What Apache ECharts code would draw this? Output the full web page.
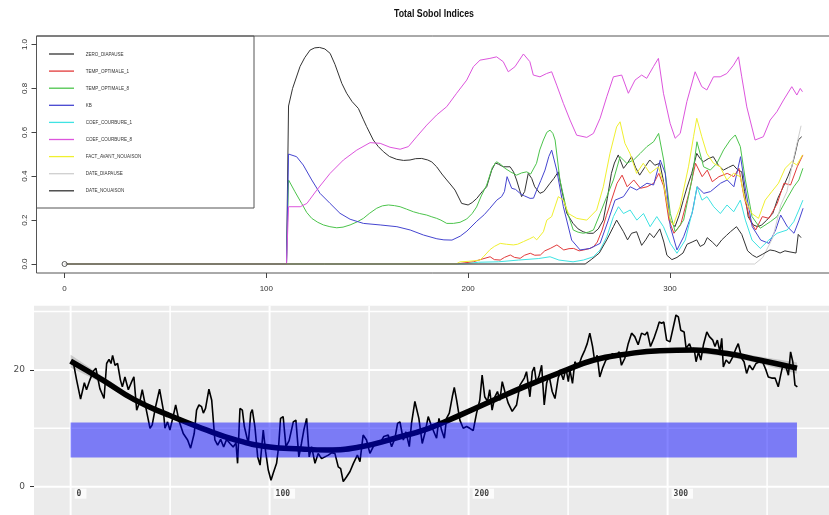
<!DOCTYPE html>
<html><head><meta charset="utf-8">
<script src="https://cdn.jsdelivr.net/npm/echarts@6/dist/echarts.min.js"></script>
<style>html,body{margin:0;padding:0;background:#fff}#c{width:829px;height:515px}</style>
</head><body><div id="c"></div>
<script>
// ---------------- TOP PANEL DATA: Total Sobol indices ([day, index]) ----------------
const chartTitle = 'Total Sobol Indices';
const seriesNames = ['ZERO_DIAPAUSE','TEMP_OPTIMALE_1','TEMP_OPTIMALE_8','KB','COEF_COURBURE_1','COEF_COURBURE_8','FACT_AVANT_NOUAISON','DATE_DIAPAUSE','DATE_NOUAISON'];
const sZeroDiapause = [[0,0],[110,0],[111,0.72],[113,0.8],[116.7,0.9],[119,0.94],[121.7,0.975],[124,0.985],[126.3,0.987],[129,0.98],[131.6,0.96],[134,0.91],[137.4,0.823],[139.8,0.778],[142.5,0.74],[145.6,0.709],[148,0.66],[149.7,0.626],[153,0.565],[155.5,0.535],[158,0.512],[161,0.49],[164.6,0.477],[168,0.472],[171.2,0.474],[174,0.48],[177,0.481],[180,0.474],[182,0.465],[184.4,0.443],[187,0.41],[189.4,0.383],[191.5,0.36],[193.5,0.337],[196.8,0.276],[200,0.269],[202,0.28],[204.3,0.299],[207,0.33],[209.2,0.352],[211.7,0.428],[213.5,0.46],[215,0.455],[217.4,0.443],[220.8,0.443],[222.5,0.42],[224,0.383],[226.5,0.307],[228,0.33],[229.8,0.413],[231.5,0.39],[233,0.352],[235.6,0.322],[237.5,0.33],[240.6,0.368],[242.5,0.39],[244.7,0.42],[246.4,0.337],[248.9,0.231],[252,0.185],[254.5,0.16],[257,0.147],[259.5,0.14],[262,0.14],[264.5,0.16],[267,0.2],[269,0.3],[271,0.413],[272.5,0.46],[274.4,0.497],[277,0.436],[279,0.46],[281,0.489],[283,0.44],[285,0.405],[287.5,0.44],[290,0.474],[292.5,0.45],[295,0.459],[296.7,0.383],[298.5,0.28],[300,0.2],[302.5,0.17],[304.5,0.22],[306.6,0.29],[308.5,0.35],[310.8,0.413],[313.3,0.504],[315,0.48],[316.6,0.466],[319,0.48],[321.5,0.489],[324,0.45],[326.5,0.428],[329,0.44],[331.4,0.451],[333.5,0.43],[335.6,0.42],[337,0.33],[338.8,0.215],[341.3,0.178],[343.5,0.17],[345.5,0.178],[348,0.2],[351,0.231],[353.5,0.3],[356.2,0.352],[358.5,0.4],[360.4,0.443],[362,0.5],[363.6,0.565],[365.3,0.58]];
const sTempOpt1 = [[0,0],[194,0],[198,0.005],[202.6,0.01],[206,0.02],[210.9,0.033],[213,0.02],[215.9,0.018],[218,0.03],[220.9,0.041],[223,0.03],[225.8,0.026],[228,0.04],[230.8,0.049],[233,0.04],[235.8,0.041],[238,0.06],[240.7,0.071],[244,0.087],[247.4,0.064],[250,0.07],[252.3,0.071],[255,0.06],[257.3,0.064],[260,0.07],[262.2,0.079],[264,0.1],[266.4,0.155],[268.5,0.22],[270.5,0.276],[273.8,0.368],[276.3,0.405],[278.8,0.352],[282.1,0.383],[285.4,0.345],[288.7,0.352],[292,0.368],[294.5,0.413],[297,0.352],[299.5,0.2],[302,0.14],[305.3,0.178],[309.4,0.322],[312.7,0.459],[316,0.398],[318.5,0.428],[321,0.375],[324.3,0.398],[328.4,0.413],[331.7,0.398],[334.2,0.436],[336.7,0.307],[340,0.193],[342.5,0.155],[345.8,0.216],[349.1,0.208],[353.2,0.276],[356.5,0.368],[359.8,0.36],[363.1,0.443],[365.9,0.497]];
const sTempOpt8 = [[0,0],[110,0],[111,0.383],[114.2,0.329],[117.5,0.276],[120,0.235],[122.5,0.208],[125.5,0.19],[128.3,0.178],[131.5,0.17],[134.9,0.165],[138,0.168],[141.5,0.178],[145,0.192],[148.1,0.208],[151,0.23],[154.7,0.254],[157.5,0.265],[160.5,0.269],[163.5,0.266],[166.3,0.261],[169.5,0.25],[172.9,0.238],[176,0.23],[179.5,0.223],[182,0.215],[184.4,0.208],[186.5,0.2],[189.4,0.185],[192.7,0.185],[196,0.19],[199.3,0.205],[202,0.23],[204.2,0.26],[206.5,0.31],[209.2,0.36],[212,0.44],[214.1,0.466],[216,0.455],[218.3,0.436],[221,0.42],[224,0.405],[226.5,0.415],[229,0.42],[231,0.41],[233.9,0.459],[235.5,0.52],[237.3,0.565],[239,0.6],[240.6,0.61],[242,0.595],[243.1,0.565],[245.5,0.383],[248.8,0.246],[252.1,0.155],[254.5,0.145],[257.1,0.14],[259.5,0.145],[262.1,0.155],[265.4,0.23],[268.7,0.307],[272,0.383],[275.3,0.489],[278.6,0.459],[282,0.474],[285.3,0.504],[288.6,0.535],[291.9,0.557],[294.4,0.595],[296.9,0.474],[300.2,0.23],[302.6,0.147],[306.8,0.2],[310.9,0.383],[313.4,0.557],[316.7,0.443],[320,0.428],[323.3,0.459],[326.6,0.52],[329.9,0.565],[332.4,0.588],[334.9,0.535],[337.4,0.383],[340.7,0.216],[344.8,0.163],[349.8,0.193],[353.1,0.216],[358.1,0.299],[361.4,0.352],[363.9,0.383],[365.9,0.436]];
const sKB = [[0,0],[110,0],[111,0.501],[115,0.489],[118.3,0.451],[122.5,0.383],[126.6,0.322],[131.6,0.276],[136.5,0.231],[141.5,0.204],[148.1,0.185],[156.4,0.178],[164.7,0.17],[171.3,0.155],[177.9,0.132],[184.5,0.115],[188,0.11],[192,0.109],[196.1,0.127],[199.4,0.15],[204.3,0.195],[208,0.225],[210.8,0.254],[214.2,0.291],[216.6,0.307],[218,0.33],[219.3,0.398],[221.6,0.345],[223.5,0.34],[225.7,0.322],[228,0.31],[230.7,0.299],[232.4,0.3],[234,0.337],[236,0.38],[238.1,0.428],[240,0.49],[241.4,0.519],[243.9,0.428],[247.2,0.261],[251.3,0.109],[255.5,0.064],[260.4,0.071],[265.4,0.094],[269.5,0.2],[272.8,0.291],[277,0.307],[280.3,0.352],[283.6,0.337],[288.6,0.368],[291.9,0.36],[295.2,0.474],[297.7,0.413],[300.2,0.17],[303.5,0.064],[306.8,0.124],[311,0.231],[313.5,0.352],[316.8,0.322],[320.1,0.33],[325.1,0.368],[328.4,0.383],[331.7,0.352],[335,0.489],[337.5,0.337],[340.8,0.17],[345,0.109],[349.1,0.094],[352.4,0.155],[354.9,0.223],[358.2,0.17],[361.5,0.14],[364,0.2],[366,0.254]];
const sCoefCourb1 = [[0,0],[198,0],[205,0.008],[215,0.01],[225,0.018],[235,0.025],[240.6,0.033],[245,0.018],[252,0.01],[257.1,0.018],[262.1,0.033],[265.4,0.064],[268.7,0.124],[272,0.216],[274.5,0.261],[277,0.23],[280.3,0.246],[283.6,0.2],[286.9,0.23],[290.2,0.17],[293.5,0.216],[296.8,0.17],[300.2,0.094],[303.5,0.049],[307.6,0.109],[311.7,0.261],[313.4,0.352],[315.9,0.291],[318.4,0.307],[321.7,0.261],[325,0.23],[328.3,0.269],[331.6,0.238],[334.9,0.291],[337.4,0.2],[340.7,0.109],[344.8,0.071],[349,0.109],[353.1,0.14],[358.1,0.155],[361.4,0.193],[363.9,0.246],[365.9,0.291]];
const sCoefCourb8 = [[0,0],[110,0],[111,0.261],[116.8,0.261],[120.1,0.276],[125,0.337],[131.6,0.413],[138.2,0.474],[144.8,0.519],[151.4,0.553],[156.4,0.55],[161.3,0.532],[166.3,0.523],[170.4,0.535],[174.5,0.58],[179.5,0.633],[184.4,0.679],[189.4,0.717],[194.3,0.778],[199.3,0.838],[202.6,0.899],[205.9,0.929],[210.8,0.937],[214.1,0.944],[217.4,0.922],[219.9,0.876],[223.2,0.899],[227.4,0.957],[230.6,0.922],[232.3,0.861],[235.6,0.853],[238.9,0.868],[241.4,0.876],[243.9,0.815],[247.2,0.732],[250.5,0.656],[253.8,0.587],[258.8,0.577],[262.1,0.595],[265.4,0.664],[268.7,0.762],[272,0.853],[276.1,0.861],[279.4,0.778],[282.7,0.838],[286,0.861],[288.5,0.846],[291.8,0.899],[294.3,0.937],[296.8,0.778],[300.1,0.641],[302.6,0.573],[305.1,0.595],[308.4,0.74],[312.5,0.876],[315.8,0.808],[318.3,0.793],[321.6,0.853],[324.9,0.853],[328.2,0.868],[331.5,0.906],[334,0.944],[335.6,0.853],[338.1,0.716],[342.2,0.565],[346.3,0.58],[349.7,0.656],[353,0.694],[356.3,0.747],[360.4,0.808],[362.9,0.77],[364.6,0.8],[365.7,0.785]];
const sFactAvant = [[0,0],[194,0],[196,0.01],[200,0.012],[203,0.015],[205.9,0.018],[207.6,0.033],[210.9,0.066],[213,0.08],[215.9,0.094],[219,0.09],[222.4,0.087],[224.5,0.09],[227.4,0.102],[230.5,0.115],[232.4,0.124],[234,0.11],[237.3,0.147],[239,0.2],[241.4,0.216],[244.7,0.307],[247.2,0.291],[249.7,0.23],[253.8,0.208],[258.8,0.2],[263.7,0.246],[267,0.352],[270.3,0.504],[273.6,0.625],[275.3,0.648],[277.7,0.55],[280.2,0.504],[283.5,0.413],[286.8,0.459],[290.1,0.413],[294.3,0.443],[296.8,0.368],[300.1,0.2],[301.7,0.178],[305,0.261],[309.2,0.443],[311.7,0.58],[313.3,0.664],[315.8,0.58],[318.3,0.504],[321.6,0.459],[324.9,0.443],[328.2,0.383],[331.5,0.413],[334.8,0.398],[337.3,0.291],[340.6,0.23],[343.9,0.208],[347.2,0.291],[350.5,0.33],[353.8,0.368],[357.1,0.436],[360.4,0.466],[362.9,0.451],[365.7,0.497]];
const sDateDiapause = [[0,0],[342,0],[346,0.03],[351,0.12],[355,0.27],[358,0.33],[361,0.47],[365,0.63]];
const sDateNouaison = [[0,0],[258,0],[261,0.02],[265,0.05],[268.7,0.11],[272,0.17],[273.6,0.2],[277,0.147],[279,0.11],[281,0.14],[283.5,0.147],[286,0.085],[288,0.11],[290,0.14],[292,0.12],[295,0.16],[297,0.1],[298.5,0.04],[301,0.02],[303.5,0.03],[306.5,0.05],[308.5,0.09],[311,0.1],[313.3,0.11],[315,0.08],[317,0.09],[318.5,0.12],[321,0.1],[323.2,0.08],[325.7,0.11],[328,0.13],[330,0.147],[333,0.17],[335.6,0.135],[338.5,0.06],[341,0.04],[343,0.03],[346,0.045],[349.6,0.064],[352,0.06],[354.6,0.05],[357,0.06],[359.5,0.055],[362.5,0.05],[363.6,0.135],[365,0.12]];
const sobolStartPoint = [[0,0]];
const topXTicks = [0,100,200,300];
const topYTicks = [0,0.2,0.4,0.6,0.8,1.0];

// ---------------- BOTTOM PANEL DATA: daily temperature ([day, value]) ----------------
const tempSeries = [[1.3,21.4],[3,18.3],[5,15.0],[6.9,17.8],[8,16.6],[9.7,18.3],[11.4,19.8],[12.7,20.3],[14.7,16.8],[16.8,15.1],[18.1,21.1],[19.3,21.8],[20.3,21.1],[21.1,22.5],[22.3,20.8],[23.6,21.1],[25,18.3],[26,17.1],[27.3,18.8],[29,16.6],[30.7,18.0],[31.8,18.8],[33.2,13.1],[34.8,14.6],[36,16.6],[37.7,13.7],[39.9,10.0],[41,10.6],[42.7,13.7],[44.7,16.7],[46.6,13.1],[47.4,10.0],[48.7,11.1],[49.9,9.7],[51.3,11.7],[52.8,14.0],[54.4,11.4],[56.6,9.1],[58.8,8.0],[60.3,6.6],[62.1,9.1],[63.3,13.1],[64.5,14.0],[65.8,13.7],[66.7,12.6],[67.8,13.4],[69.5,16.7],[70.9,14.8],[72.5,8.0],[73.9,7.1],[75.4,8.1],[76.9,6.8],[78.4,8.1],[80.1,7.4],[81.7,6.8],[83.1,7.5],[83.9,4.0],[85.1,13.4],[86.3,13.1],[87.3,10.3],[88.1,10.6],[89.3,7.4],[90.5,12.6],[91.3,13.2],[92.6,10.3],[94,5.1],[95.2,3.7],[96.8,9.7],[98,6.0],[99.3,2.9],[100.7,1.1],[101.8,2.3],[103.5,4.0],[104.5,6.8],[105.5,11.7],[106.8,12.0],[108.2,6.85],[109.8,7.9],[111.9,11.1],[113.2,11.4],[114.7,5.1],[116,7.4],[117.2,9.7],[118.6,11.7],[119.9,5.1],[121.1,6.85],[122.8,4.0],[124.4,5.7],[126.1,4.8],[127.8,5.1],[129.5,5.4],[131.1,5.8],[132.8,5.7],[134.5,3.4],[135.7,3.1],[137,0.86],[138.7,1.7],[140.4,2.6],[142.1,4.0],[144.1,5.4],[145.4,4.3],[147,8.85],[148.7,8.0],[150.4,5.7],[152.1,6.85],[153.7,7.7],[155.4,7.4],[157.4,8.6],[159.6,8.85],[161.3,6.85],[163,8.3],[164.3,10.85],[165.5,11.1],[167.2,8.0],[168.5,9.4],[170.2,6.85],[171.3,10.85],[173,14.6],[175,11.7],[176.7,7.4],[178,9.1],[179.7,12.0],[181.4,10.3],[183.9,8.3],[185.1,11.7],[186.4,9.7],[187.8,8.3],[188.9,11.7],[190.3,12.6],[191.8,15.4],[192.8,17.0],[194,14.8],[195.6,11.4],[197.3,10.0],[199,10.3],[200.6,10.0],[202.3,9.6],[204,12.6],[205.6,14.8],[206.8,19.1],[208.1,15.4],[209.5,14.6],[210.6,16.6],[211.8,13.1],[213.2,15.4],[214.5,16.3],[215.7,14.8],[216.9,18.0],[218.2,16.3],[219.9,14.3],[221.9,12.9],[224.1,14.0],[225.8,17.4],[228,18.6],[229.1,19.7],[230.8,15.4],[232,19.7],[233,20.5],[234.1,17.7],[235.5,19.1],[236.7,20.8],[238,14.0],[239.2,17.7],[240.4,19.1],[242,16.3],[243.4,15.1],[245,18.6],[246.2,19.7],[247.6,18.3],[248.9,20.3],[250.1,18.0],[250.9,20.0],[252.2,17.7],[253.4,21.4],[255.1,20.5],[256.8,22.2],[258.4,23.4],[259.6,24.5],[260.9,26.3],[262.3,24.0],[263.4,21.4],[264.6,22.5],[265.9,18.8],[267.3,20.3],[269,21.7],[270.6,22.0],[272.3,22.8],[274,22.3],[275.7,23.1],[276.8,20.8],[278.5,22.0],[280.2,24.5],[281.9,26.3],[283.5,25.7],[285.2,24.3],[286.9,26.3],[288.6,26.0],[289.8,26.5],[291.4,24.0],[293.1,25.4],[294.8,27.1],[295.8,28.2],[297,28.0],[298.1,28.2],[299.5,25.1],[301.2,24.8],[302.9,27.4],[304.2,29.4],[305.4,29.1],[306.6,26.8],[308.3,26.5],[309.3,23.7],[311,24.5],[312.1,23.4],[313.3,23.7],[314.3,21.4],[315.5,23.1],[316.7,21.7],[318,24.3],[319.7,26.5],[321,25.7],[322.7,25.1],[323.8,24.0],[325,25.1],[326.3,23.1],[327.2,25.4],[328,20.5],[329.4,21.7],[331,21.1],[332.7,22.2],[334.4,23.7],[335.5,24.5],[337.2,22.0],[338.4,21.4],[339.7,19.4],[341.1,20.8],[342.7,20.0],[344.4,21.1],[346.1,21.4],[347.7,21.4],[349.4,20.0],[350.6,18.8],[352.3,18.6],[354,18.6],[355.6,17.1],[356.8,19.1],[358.1,21.1],[359.5,20.5],[360.7,19.1],[361.8,23.1],[362.9,21.4],[364,17.4],[365.2,17.1]];
const smoothDays = [0,16,32,49,66,83,99,116,129,146,163,180,196,213,230,247,263,279,296,313,330,346,365];
const smoothVals = [21.5,18.3,14.9,12.3,10.0,8.0,6.85,6.45,6.3,6.85,8.3,10.0,12.3,14.9,17.4,19.7,21.7,22.7,23.3,23.4,22.8,21.7,20.3];
const ribbonHi = [22.6,18.9,15.35,12.7,10.38,8.36,7.2,6.8,6.65,7.2,8.65,10.35,12.65,15.25,17.75,20.06,22.08,23.1,23.72,23.85,23.3,22.32,21.25];
const ribbonLo = [20.4,17.7,14.45,11.9,9.62,7.64,6.5,6.1,5.95,6.5,7.95,9.65,11.95,14.55,17.05,19.34,21.32,22.3,22.88,22.95,22.3,21.08,19.35];
const bandDays = [0,365];
const bandTemp = [5,11];
const botXTicks = [0,100,200,300];
const botXTickLabels = ['0','100','200','300'];
const botYTicks = [0,20];
const gridMajorX = [0,100,200,300];
const gridMinorX = [50,150,250,350];
const gridMajorY = [0,20];
const gridMinorY = [10,30];

// ---------------- CHART ----------------
const colors = ['#333333','#e23a3a','#4cc44c','#4545d0','#3fe3e3','#dd55dd','#f0f030','#cfcfcf','#333333'];
const topData = [sZeroDiapause,sTempOpt1,sTempOpt8,sKB,sCoefCourb1,sCoefCourb8,sFactAvant,sDateDiapause,sDateNouaison];
const narrow = "'Liberation Sans Narrow','Liberation Sans',Arial,sans-serif";

const chart = echarts.init(document.getElementById('c'), null, {renderer:'canvas'});

const topSeries = seriesNames.map((n,i)=>({
  name:n, type:'line', xAxisIndex:0, yAxisIndex:0, data:topData[i],
  symbol:'none', showSymbol:false, lineStyle:{color:colors[i], width:1}, itemStyle:{color:colors[i]},
  z:2+i, silent:true
}));

// R-style title, plot frame (runs off the right edge of the picture) and legend box
const frameGraphics = [
  {type:'text', silent:true, x:434, y:14, scaleX:0.88, style:{text:chartTitle, fill:'#111', font:"bold 10px 'Liberation Sans Narrow','Liberation Sans',sans-serif", align:'center', verticalAlign:'middle'}},
  {type:'line', silent:true, shape:{x1:36.5, y1:36, x2:829, y2:36}, style:{stroke:'#555', lineWidth:1}},
  {type:'line', silent:true, shape:{x1:36.5, y1:273, x2:829, y2:273}, style:{stroke:'#555', lineWidth:1}},
  {type:'line', silent:true, shape:{x1:36.5, y1:36, x2:36.5, y2:273}, style:{stroke:'#555', lineWidth:1}},
  {type:'rect', silent:true, shape:{x:36.5, y:36, width:217.5, height:172}, style:{fill:'none', stroke:'#555', lineWidth:1}}
];
seriesNames.forEach((n,i)=>{
  const y = 54 + 17.1*i;
  frameGraphics.push({type:'line', silent:true, shape:{x1:49, y1:y, x2:74, y2:y}, style:{stroke:colors[i], lineWidth:1.3}});
  frameGraphics.push({type:'text', silent:true, x:85.7, y:y, scaleX:0.76, style:{text:n, fill:'#333', font:"6px 'Liberation Sans Narrow','Liberation Sans',sans-serif", verticalAlign:'middle', align:'left'}});
});

function vLines(xs, w){
  return {type:'custom', xAxisIndex:1, yAxisIndex:1, z:1, silent:true,
    data: xs.map(x=>[x,0]),
    renderItem:(params, api)=>{
      const cs = params.coordSys; const p = api.coord([api.value(0), 0]);
      return {type:'line', shape:{x1:p[0], y1:cs.y, x2:p[0], y2:cs.y+cs.height}, style:{stroke:'#ffffff', lineWidth:w}};
    }};
}
function hLines(ys, w){
  return {type:'custom', xAxisIndex:1, yAxisIndex:1, z:1, silent:true,
    data: ys.map(y=>[0,y]),
    renderItem:(params, api)=>{
      const cs = params.coordSys; const p = api.coord([0, api.value(1)]);
      return {type:'line', shape:{x1:cs.x, y1:p[1], x2:cs.x+cs.width, y2:p[1]}, style:{stroke:'#ffffff', lineWidth:w}};
    }};
}

const option = {
  animation:false,
  backgroundColor:'#ffffff',
  graphic:frameGraphics,
  grid:[
    {left:36.5, top:36, width:790, height:237, show:false},
    {left:34, top:305.7, width:795, height:209.3, show:true, borderWidth:0, backgroundColor:'#EBEBEB'}
  ],
  xAxis:[
    {gridIndex:0, type:'value', min:-13.9, max:377.6, axisLine:{show:false, onZero:false}, splitLine:{show:false},
      axisTick:{show:true, customValues:topXTicks, length:5, lineStyle:{color:'#444'}},
      axisLabel:{customValues:topXTicks, margin:12, fontSize:8, color:'#333', fontFamily:narrow}},
    {gridIndex:1, type:'value', min:-18.4, max:381.1, show:false, axisLine:{onZero:false}}
  ],
  yAxis:[
    {gridIndex:0, type:'value', min:-0.041, max:1.039, axisLine:{show:false, onZero:false}, splitLine:{show:false},
      axisTick:{show:true, customValues:topYTicks, length:5, lineStyle:{color:'#444'}},
      axisLabel:{customValues:topYTicks, rotate:90, margin:8, fontSize:8, color:'#333', fontFamily:narrow,
        formatter:v=>Number(v).toFixed(1)}},
    {gridIndex:1, type:'value', min:-4.85, max:31, axisLine:{show:false, onZero:false}, splitLine:{show:false},
      axisTick:{show:true, customValues:botYTicks, length:4, lineStyle:{color:'#333'}},
      axisLabel:{customValues:botYTicks, margin:9, fontSize:9, color:'#4d4d4d', fontFamily:"'DejaVu Sans',sans-serif"}}
  ],
  series:[
    ...topSeries,
    {name:'start', type:'scatter', xAxisIndex:0, yAxisIndex:0, data:sobolStartPoint, symbol:'circle', symbolSize:5,
      itemStyle:{color:'#ffffff', borderColor:'#333', borderWidth:1}, z:20, silent:true},
    vLines(gridMajorX, 2), vLines(gridMinorX, 1.5), hLines(gridMajorY, 2), hLines(gridMinorY, 1.5),
    {name:'ribbon', type:'custom', xAxisIndex:1, yAxisIndex:1, z:2, silent:true, data:[[0,0]],
      renderItem:(params, api)=>{
        const pts = [];
        for(let i=0;i<smoothDays.length;i++) pts.push(api.coord([smoothDays[i], ribbonHi[i]]));
        for(let i=smoothDays.length-1;i>=0;i--) pts.push(api.coord([smoothDays[i], ribbonLo[i]]));
        return {type:'polygon', shape:{points:pts}, style:{fill:'rgba(153,153,153,0.45)'}};
      }},
    {name:'temperature', type:'line', xAxisIndex:1, yAxisIndex:1, data:tempSeries, symbol:'none',
      lineStyle:{color:'#000', width:1.6}, z:3, silent:true},
    {name:'smooth', type:'line', xAxisIndex:1, yAxisIndex:1, data:smoothDays.map((d,i)=>[d,smoothVals[i]]),
      symbol:'none', smooth:0.5, lineStyle:{color:'#000', width:5.5}, z:4, silent:true},
    {name:'band', type:'custom', xAxisIndex:1, yAxisIndex:1, z:5, silent:true,
      data:[[bandDays[0], bandDays[1], bandTemp[0], bandTemp[1]]],
      renderItem:(params, api)=>{
        const p0 = api.coord([api.value(0), api.value(3)]);
        const p1 = api.coord([api.value(1), api.value(2)]);
        return {type:'rect', shape:{x:p0[0], y:p0[1], width:p1[0]-p0[0], height:p1[1]-p0[1]}, style:{fill:'rgba(0,0,255,0.48)'}};
      }},
    {name:'xlabels', type:'scatter', xAxisIndex:1, yAxisIndex:1, z:6, silent:true, symbolSize:0,
      data:botXTicks.map((d,i)=>({value:[d,0], name:botXTickLabels[i]})),
      label:{show:true, formatter:p=>p.name, position:[4,2], align:'left', verticalAlign:'top',
        backgroundColor:'#ffffff', padding:[1,5,1,2], fontSize:8, fontWeight:'bold', color:'#111',
        fontFamily:"'DejaVu Sans Mono',monospace"}}
  ]
};
chart.setOption(option);
</script></body></html>
